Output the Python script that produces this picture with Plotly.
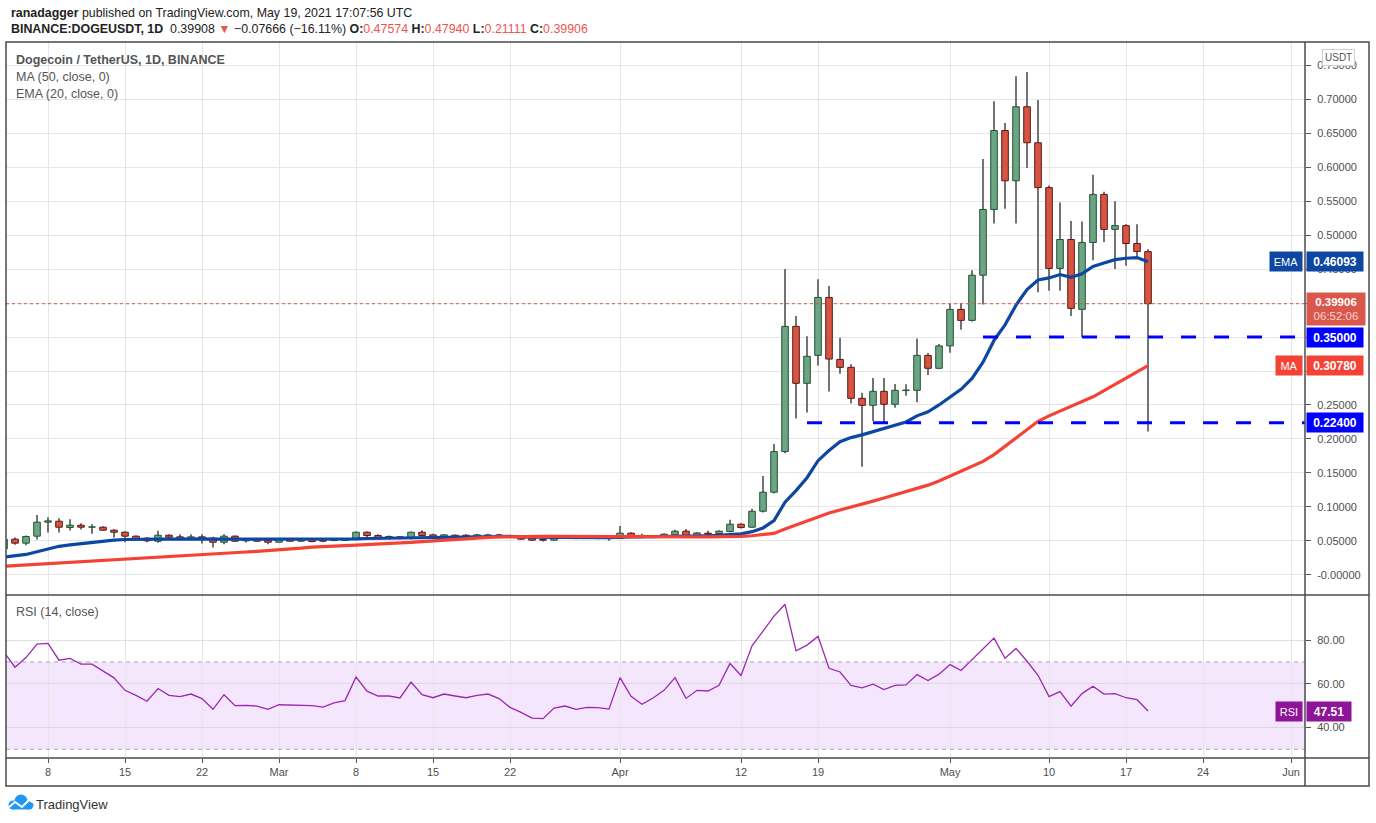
import pandas as pd
import plotly.graph_objs as go

# daily candles, BINANCE DOGEUSDT, 2021-02-04 .. 2021-05-19
start_date = "2021-02-04"
opens = [
    0.0382, 0.0525, 0.0466, 0.0569, 0.0775, 0.0789, 0.0696, 0.0730, 0.0701, 0.0701,
    0.0657, 0.0627, 0.0569, 0.0539, 0.0495, 0.0583, 0.0559, 0.0534, 0.0559, 0.0539,
    0.0480, 0.0569, 0.0500, 0.0520, 0.0510, 0.0480, 0.0520, 0.0495, 0.0520, 0.0510,
    0.0505, 0.0505, 0.0520, 0.0627, 0.0578, 0.0539, 0.0559, 0.0539, 0.0627, 0.0588,
    0.0564, 0.0583, 0.0583, 0.0564, 0.0569, 0.0588, 0.0573, 0.0559, 0.0544, 0.0520,
    0.0510, 0.0544, 0.0549, 0.0549, 0.0549, 0.0549, 0.0534, 0.0613, 0.0573, 0.0549,
    0.0564, 0.0588, 0.0642, 0.0578, 0.0613, 0.0608, 0.0637, 0.0745, 0.0701, 0.0936,
    0.1216, 0.1814, 0.3657, 0.2819, 0.3230, 0.4083, 0.3171, 0.3054, 0.2598, 0.2495,
    0.2701, 0.2510, 0.2712, 0.2716, 0.3230, 0.3040, 0.3370, 0.3907, 0.3745, 0.4410,
    0.5378, 0.6540, 0.5800, 0.6890, 0.6360, 0.5700, 0.4510, 0.4936, 0.3907, 0.4892,
    0.5600, 0.5085, 0.5140, 0.4877, 0.47574,
]
highs = [
    0.0540, 0.0550, 0.0578, 0.0882, 0.0848, 0.0833, 0.0819, 0.0760, 0.0745, 0.0716,
    0.0672, 0.0642, 0.0578, 0.0554, 0.0647, 0.0598, 0.0598, 0.0598, 0.0598, 0.0559,
    0.0598, 0.0578, 0.0539, 0.0534, 0.0520, 0.0530, 0.0534, 0.0539, 0.0530, 0.0520,
    0.0534, 0.0539, 0.0637, 0.0637, 0.0598, 0.0578, 0.0573, 0.0637, 0.0657, 0.0603,
    0.0598, 0.0593, 0.0598, 0.0603, 0.0603, 0.0603, 0.0578, 0.0564, 0.0554, 0.0534,
    0.0569, 0.0564, 0.0564, 0.0559, 0.0559, 0.0559, 0.0720, 0.0627, 0.0603, 0.0588,
    0.0608, 0.0662, 0.0676, 0.0632, 0.0647, 0.0657, 0.0809, 0.0760, 0.0971, 0.1456,
    0.1926, 0.4500, 0.3810, 0.3510, 0.4350, 0.4250, 0.3490, 0.3100, 0.2680, 0.2897,
    0.2897, 0.2809, 0.2804, 0.3480, 0.3265, 0.3397, 0.3985, 0.3995, 0.4485, 0.6120,
    0.6970, 0.6650, 0.7340, 0.7400, 0.6990, 0.5730, 0.5480, 0.5210, 0.5200, 0.5890,
    0.5640, 0.5500, 0.5160, 0.5160, 0.47940,
]
lows = [
    0.0370, 0.0441, 0.0436, 0.0520, 0.0623, 0.0623, 0.0652, 0.0667, 0.0603, 0.0652,
    0.0549, 0.0480, 0.0520, 0.0480, 0.0471, 0.0539, 0.0510, 0.0520, 0.0461, 0.0402,
    0.0451, 0.0490, 0.0475, 0.0485, 0.0451, 0.0475, 0.0490, 0.0485, 0.0480, 0.0480,
    0.0495, 0.0500, 0.0510, 0.0539, 0.0529, 0.0525, 0.0525, 0.0520, 0.0564, 0.0544,
    0.0549, 0.0549, 0.0554, 0.0554, 0.0554, 0.0554, 0.0544, 0.0515, 0.0500, 0.0490,
    0.0500, 0.0534, 0.0525, 0.0529, 0.0525, 0.0500, 0.0529, 0.0554, 0.0539, 0.0539,
    0.0559, 0.0578, 0.0564, 0.0564, 0.0588, 0.0598, 0.0627, 0.0681, 0.0691, 0.0917,
    0.1196, 0.1790, 0.2300, 0.2390, 0.3080, 0.2700, 0.2960, 0.2520, 0.1590, 0.2265,
    0.2235, 0.2461, 0.2637, 0.2542, 0.2941, 0.3025, 0.3270, 0.3608, 0.3730, 0.3980,
    0.5170, 0.5390, 0.5170, 0.5990, 0.4160, 0.4180, 0.4180, 0.3810, 0.3500, 0.4632,
    0.4900, 0.4500, 0.4550, 0.4660, 0.21111,
]
closes = [
    0.0525, 0.0466, 0.0564, 0.0775, 0.0794, 0.0701, 0.0730, 0.0701, 0.0706, 0.0657,
    0.0627, 0.0569, 0.0534, 0.0500, 0.0583, 0.0554, 0.0534, 0.0559, 0.0534, 0.0480,
    0.0569, 0.0495, 0.0515, 0.0495, 0.0480, 0.0520, 0.0495, 0.0510, 0.0490, 0.0495,
    0.0525, 0.0530, 0.0627, 0.0578, 0.0544, 0.0564, 0.0539, 0.0627, 0.0578, 0.0559,
    0.0588, 0.0564, 0.0564, 0.0588, 0.0588, 0.0564, 0.0549, 0.0525, 0.0510, 0.0510,
    0.0559, 0.0556, 0.0539, 0.0539, 0.0539, 0.0534, 0.0613, 0.0564, 0.0549, 0.0573,
    0.0598, 0.0642, 0.0578, 0.0617, 0.0598, 0.0642, 0.0745, 0.0696, 0.0936, 0.1216,
    0.1814, 0.3657, 0.2819, 0.3216, 0.4083, 0.3176, 0.3054, 0.2598, 0.2495, 0.2701,
    0.2510, 0.2716, 0.2720, 0.3230, 0.3040, 0.3370, 0.3907, 0.3745, 0.4410, 0.5378,
    0.6540, 0.5800, 0.6890, 0.6360, 0.5700, 0.4510, 0.4936, 0.3922, 0.4892, 0.5600,
    0.5085, 0.5140, 0.4877, 0.4760, 0.39906,
]

# indicator values
ema20 = [
    0.0260, 0.0280, 0.0300, 0.0340, 0.0380, 0.0420, 0.0440, 0.0460, 0.0480, 0.0500,
    0.0510, 0.0520, 0.0525, 0.0525, 0.0525, 0.0525, 0.0530, 0.0530, 0.0530, 0.0525,
    0.0525, 0.0525, 0.0520, 0.0520, 0.0520, 0.0520, 0.0520, 0.0520, 0.0520, 0.0520,
    0.0520, 0.0520, 0.0530, 0.0535, 0.0537, 0.0540, 0.0540, 0.0550, 0.0555, 0.0556,
    0.0558, 0.0560, 0.0560, 0.0562, 0.0564, 0.0565, 0.0565, 0.0560, 0.0555, 0.0550,
    0.0552, 0.0552, 0.0550, 0.0550, 0.0548, 0.0546, 0.0556, 0.0557, 0.0557, 0.0558,
    0.0560, 0.0565, 0.0567, 0.0572, 0.0575, 0.0580, 0.0593, 0.0603, 0.0635, 0.0690,
    0.0797, 0.1070, 0.1240, 0.1430, 0.1680, 0.1830, 0.1960, 0.2020, 0.2060, 0.2110,
    0.2150, 0.2200, 0.2250, 0.2340, 0.2400, 0.2500, 0.2620, 0.2730, 0.2890, 0.3130,
    0.3450, 0.3680, 0.3970, 0.4200, 0.4340, 0.4370, 0.4420, 0.4380, 0.4430, 0.4540,
    0.4590, 0.4640, 0.4660, 0.4670, 0.46093,
]
ma50 = [
    0.0127, 0.0137, 0.0147, 0.0157, 0.0167, 0.0177, 0.0187, 0.0197, 0.0207, 0.0217,
    0.0227, 0.0237, 0.0246, 0.0255, 0.0264, 0.0273, 0.0282, 0.0291, 0.0300, 0.0309,
    0.0318, 0.0327, 0.0336, 0.0345, 0.0354, 0.0363, 0.0375, 0.0392, 0.0408, 0.0418,
    0.0424, 0.0430, 0.0436, 0.0443, 0.0450, 0.0458, 0.0468, 0.0478, 0.0490, 0.0502,
    0.0515, 0.0527, 0.0537, 0.0545, 0.0552, 0.0558, 0.0562, 0.0564, 0.0565, 0.0565,
    0.0565, 0.0564, 0.0563, 0.0561, 0.0559, 0.0556, 0.0555, 0.0554, 0.0554, 0.0554,
    0.0555, 0.0556, 0.0557, 0.0558, 0.0559, 0.0560, 0.0563, 0.0566, 0.0575, 0.0588,
    0.0610, 0.0675, 0.0735, 0.0790, 0.0860, 0.0910, 0.0955, 0.0995, 0.1040, 0.1085,
    0.1130, 0.1175, 0.1220, 0.1270, 0.1320, 0.1380, 0.1450, 0.1520, 0.1590, 0.1670,
    0.1770, 0.1890, 0.2010, 0.2140, 0.2260, 0.2340, 0.2410, 0.2470, 0.2540, 0.2620,
    0.2710, 0.2800, 0.2890, 0.2980, 0.30780,
]
rsi14 = [
    74.5, 67.6, 72.0, 78.2, 78.5, 70.8, 71.6, 69.0, 69.0, 65.7,
    62.7, 57.0, 54.7, 52.0, 57.8, 54.7, 54.1, 55.3, 53.2, 48.3,
    55.0, 50.0, 50.1, 49.8, 48.3, 50.4, 50.3, 50.3, 50.0, 49.3,
    51.2, 52.3, 63.1, 56.6, 54.4, 54.4, 53.5, 60.8, 55.0, 53.6,
    55.3, 54.4, 53.6, 54.7, 55.3, 53.2, 49.2, 46.9, 44.3, 44.0,
    48.9, 49.8, 48.3, 49.2, 49.1, 48.4, 62.8, 54.3, 50.6, 53.5,
    57.0, 62.8, 53.3, 57.0, 56.7, 59.3, 69.3, 63.8, 77.4, 84.1,
    91.0, 96.4, 75.1, 77.7, 81.7, 67.1, 65.4, 59.3, 58.1, 59.8,
    57.3, 59.3, 59.5, 64.2, 61.5, 64.4, 68.8, 66.1, 71.1, 76.2,
    80.9, 71.7, 76.2, 70.3, 63.9, 54.1, 56.4, 49.7, 55.5, 58.9,
    55.3, 55.5, 53.6, 52.7, 47.51,
]

# horizontal support levels drawn by the author
support_levels = [0.35, 0.224]
support_start = ["2021-05-04", "2021-04-18"]

price_ticks = [0.0, 0.05, 0.10, 0.15, 0.20, 0.25, 0.30, 0.35, 0.40, 0.45, 0.50, 0.55, 0.60, 0.65, 0.70, 0.75]
# 0.35 and 0.40 sit fully under the value tags in the original, so no label there
price_tick_text = ["-0.00000", "0.05000", "0.10000", "0.15000", "0.20000", "0.25000", "0.30000", "",
                   "", "0.45000", "0.50000", "0.55000", "0.60000", "0.65000", "0.70000", "0.75000"]
rsi_ticks = [40, 60, 80]
rsi_tick_text = ["40.00", "60.00", "80.00"]
rsi_band = [30, 70]
date_ticks = ["2021-02-08", "2021-02-15", "2021-02-22", "2021-03-01", "2021-03-08", "2021-03-15",
              "2021-03-22", "2021-04-01", "2021-04-12", "2021-04-19", "2021-05-01", "2021-05-10",
              "2021-05-17", "2021-05-24", "2021-06-01"]
date_tick_text = ["8", "15", "22", "Mar", "8", "15", "22", "Apr", "12", "19", "May", "10", "17", "24", "Jun"]

W, H = 1376, 823


def px_x(x):
    return x / W


def px_y(y):
    return 1 - y / H


dates = pd.date_range(start_date, periods=len(closes), freq="D")
df = pd.DataFrame({"open": opens, "high": highs, "low": lows, "close": closes}, index=dates)
df["up"] = df["close"] >= df["open"]
df["body_lo"] = df[["open", "close"]].min(axis=1)
df["body_h"] = (df["close"] - df["open"]).abs()

DAY = 86400000
UP_FILL, UP_LINE = "#6ba583", "#225437"
DN_FILL, DN_LINE = "#d75442", "#5b1a13"
GRID = "#e6e6e6"
AXIS_TXT = "#4f4f4f"
FONT = "Liberation Sans"

fig = go.Figure()

# wicks (thin bars) first, bodies drawn over them
fig.add_trace(
    go.Bar(
        x=df.index,
        y=df["high"] - df["low"],
        base=df["low"],
        width=0.09 * DAY,
        marker=dict(color="#737375", line=dict(width=0)),
        xaxis="x",
        yaxis="y",
        hoverinfo="skip",
    )
)
fig.add_trace(
    go.Bar(
        x=df.index,
        y=df["body_h"],
        base=df["body_lo"],
        width=0.6 * DAY,
        marker=dict(
            color=[UP_FILL if u else DN_FILL for u in df["up"]],
            line=dict(color=[UP_LINE if u else DN_LINE for u in df["up"]], width=1),
        ),
        xaxis="x",
        yaxis="y",
        hoverinfo="skip",
    )
)

# moving averages
fig.add_trace(
    go.Scatter(x=dates, y=ema20, mode="lines", line=dict(color="#0d47a1", width=3.2),
               xaxis="x", yaxis="y", hoverinfo="skip")
)
fig.add_trace(
    go.Scatter(x=dates, y=ma50, mode="lines", line=dict(color="#f44336", width=3.2),
               xaxis="x", yaxis="y", hoverinfo="skip")
)

# support levels
for lvl, start in zip(support_levels, support_start):
    fig.add_trace(
        go.Scatter(
            x=[pd.Timestamp(start), pd.Timestamp("2021-06-04")],
            y=[lvl, lvl],
            mode="lines",
            line=dict(color="#0000ff", width=3, dash="15px,18px"),
            xaxis="x",
            yaxis="y",
            hoverinfo="skip",
        )
    )

# RSI
fig.add_trace(
    go.Scatter(x=dates, y=rsi14, mode="lines", line=dict(color="#9c27b0", width=1.3),
               xaxis="x2", yaxis="y2", hoverinfo="skip")
)

x_range = [pd.Timestamp("2021-02-04 04:20"), pd.Timestamp("2021-06-02 06:30")]
x_dom = [px_x(6), px_x(1305)]

fig.update_layout(
    width=W,
    height=H,
    margin=dict(l=0, r=0, t=0, b=0),
    paper_bgcolor="white",
    plot_bgcolor="rgba(0,0,0,0)",
    showlegend=False,
    barmode="overlay",
    font=dict(family=FONT, size=11, color=AXIS_TXT),
    xaxis=dict(
        domain=x_dom, anchor="y", range=x_range, type="date",
        tickvals=date_ticks, showticklabels=False, ticks="",
        showgrid=True, gridcolor=GRID, gridwidth=1, zeroline=False,
    ),
    xaxis2=dict(
        domain=x_dom, anchor="y2", range=x_range, type="date", matches="x",
        tickvals=date_ticks, ticktext=date_tick_text, ticks="outside", ticklen=4,
        tickcolor="#555", showgrid=True, gridcolor=GRID, gridwidth=1, zeroline=False,
        tickfont=dict(family=FONT, size=11, color=AXIS_TXT),
    ),
    yaxis=dict(
        domain=[px_y(595), px_y(42)], anchor="x", side="right",
        range=[-0.0297, 0.7843], tickvals=price_ticks, ticktext=price_tick_text,
        ticks="outside", ticklen=5, tickcolor="#555", ticklabelstandoff=4,
        showgrid=True, gridcolor=GRID, gridwidth=1, zeroline=False,
        tickfont=dict(family=FONT, size=11, color=AXIS_TXT),
    ),
    yaxis2=dict(
        domain=[px_y(758), px_y(596)], anchor="x2", side="right",
        range=[26.0, 100.2], tickvals=rsi_ticks, ticktext=rsi_tick_text,
        ticks="outside", ticklen=5, tickcolor="#555", ticklabelstandoff=4,
        showgrid=True, gridcolor="rgba(200,200,200,0.55)", gridwidth=1, zeroline=False,
        tickfont=dict(family=FONT, size=11, color=AXIS_TXT),
    ),
)

shapes = []
# RSI band 30-70 with dashed bounds
shapes.append(dict(type="rect", xref="x2 domain", yref="y2", x0=0, x1=1, y0=rsi_band[0], y1=rsi_band[1],
                   fillcolor="#f3e6fd", line=dict(width=0), layer="below"))
for b in rsi_band:
    shapes.append(dict(type="line", xref="x2 domain", yref="y2", x0=0, x1=1, y0=b, y1=b,
                       line=dict(color="#a8a8a8", width=1, dash="4px,4px")))
# last price dotted line
shapes.append(dict(type="line", xref="x domain", yref="y", x0=0, x1=1, y0=closes[-1], y1=closes[-1],
                   line=dict(color="#d75442", width=1, dash="dot")))
# pane frame and separators
frame = "#4a4a4a"
shapes.append(dict(type="rect", xref="paper", yref="paper", x0=px_x(6), x1=px_x(1369),
                   y0=px_y(786), y1=px_y(42), line=dict(color=frame, width=1.5)))
for yy in (595, 758):
    shapes.append(dict(type="line", xref="paper", yref="paper", x0=px_x(6), x1=px_x(1369),
                       y0=px_y(yy), y1=px_y(yy), line=dict(color=frame, width=1.5)))
shapes.append(dict(type="line", xref="paper", yref="paper", x0=px_x(1305), x1=px_x(1305),
                   y0=px_y(786), y1=px_y(42), line=dict(color=frame, width=1.5)))

# TradingView logo (small blue cloud with a zigzag)
LOGO = "#2196f3"
for cx, cy, r in [(21, 801, 6.5), (13, 805, 4.5), (29, 805, 4.5)]:
    shapes.append(dict(type="circle", xref="paper", yref="paper", x0=px_x(cx - r), x1=px_x(cx + r),
                       y0=px_y(cy + r), y1=px_y(cy - r), fillcolor=LOGO, line=dict(width=0)))
shapes.append(dict(type="rect", xref="paper", yref="paper", x0=px_x(13), x1=px_x(29),
                   y0=px_y(809.5), y1=px_y(803), fillcolor=LOGO, line=dict(width=0)))
zig = [(8, 808), (15, 802), (22, 807), (29, 800), (34, 803)]
path = "M " + " L ".join(f"{px_x(a):.5f},{px_y(b):.5f}" for a, b in zig)
shapes.append(dict(type="path", xref="paper", yref="paper", path=path, line=dict(color="white", width=2)))
fig.update_layout(shapes=shapes)

RED_TXT = "#ef5350"
HEAD_FONT = "Liberation Sans, Arial, sans-serif"
ann = []
ann.append(dict(
    xref="paper", yref="paper", x=px_x(9), y=px_y(13), xanchor="left", yanchor="middle", showarrow=False,
    text="<b>ranadagger</b> published on TradingView.com, May 19, 2021 17:07:56 UTC",
    font=dict(family=HEAD_FONT, size=12.4, color="#222"),
))
ann.append(dict(
    xref="paper", yref="paper", x=px_x(9), y=px_y(29), xanchor="left", yanchor="middle", showarrow=False,
    text=("<b>BINANCE:DOGEUSDT, 1D</b>  0.39908 <span style='color:%s'>▼</span> \u22120.07666 (\u221216.11%%) "
          "<b>O:</b><span style='color:%s'>0.47574</span> <b>H:</b><span style='color:%s'>0.47940</span> "
          "<b>L:</b><span style='color:%s'>0.21111</span> <b>C:</b><span style='color:%s'>0.39906</span>")
    % (RED_TXT, RED_TXT, RED_TXT, RED_TXT, RED_TXT),
    font=dict(family=HEAD_FONT, size=12.4, color="#222"),
))
for txt, yy, bold in [("Dogecoin / TetherUS, 1D, BINANCE", 60, True), ("MA (50, close, 0)", 77, False),
                      ("EMA (20, close, 0)", 94, False), ("RSI (14, close)", 612, False)]:
    ann.append(dict(
        xref="paper", yref="paper", x=px_x(14), y=px_y(yy), xanchor="left", yanchor="middle", showarrow=False,
        text=f"<b>{txt}</b>" if bold else txt,
        font=dict(family=HEAD_FONT, size=12.5, color="#555"),
    ))
ann.append(dict(
    xref="paper", yref="paper", x=px_x(34), y=px_y(804), xanchor="left", yanchor="middle", showarrow=False,
    text="TradingView", font=dict(family=HEAD_FONT, size=13, color="#333"),
))
# USDT currency box
ann.append(dict(
    xref="paper", yref="paper", x=px_x(1338), y=px_y(58), xanchor="center", yanchor="middle", showarrow=False,
    text="USDT", font=dict(family=FONT, size=10, color="#555"), bgcolor="white",
    bordercolor="#cfcfcf", borderwidth=1, borderpad=2,
))


def value_tag(yref, yval, text, color, tag=None, width=54, tag_width=30, height=17):
    ann.append(dict(
        xref="paper", yref=yref, x=px_x(1305.5), y=yval, xanchor="left", yanchor="middle", showarrow=False,
        text=text, font=dict(family=FONT, size=12, color="white"), bgcolor=color,
        width=width, height=height, align="center",
    ))
    if tag:
        ann.append(dict(
            xref="paper", yref=yref, x=px_x(1303), y=yval, xanchor="right", yanchor="middle", showarrow=False,
            text=tag, font=dict(family=FONT, size=11, color="white"), bgcolor=color,
            width=tag_width, height=height, align="center",
        ))


value_tag("y", ema20[-1], f"<b>{ema20[-1]:.5f}</b>", "#0d47a1", tag="EMA")
value_tag("y", ma50[-1], f"<b>{ma50[-1]:.5f}</b>", "#f44336", tag="MA", tag_width=24)
for lvl in support_levels:
    value_tag("y", lvl, f"<b>{lvl:.5f}</b>", "#0000ff")
ann.append(dict(
    xref="paper", yref="y", x=px_x(1305.5), y=closes[-1] - 0.0085, xanchor="left", yanchor="middle",
    showarrow=False, text=f"<b>{closes[-1]:.5f}</b><br><span style='color:#f6d5d1'>06:52:06</span>",
    font=dict(family=FONT, size=11.5, color="white"), bgcolor="#d9584b", width=56, height=30, align="center",
))
value_tag("y2", rsi14[-1], f"<b>{rsi14[-1]:.2f}</b>", "#8e1599", tag="RSI", width=42, tag_width=24)
fig.update_layout(annotations=ann)

# drop the default page margin so the figure sits at the window's top-left corner
fig.write_html("out.html", config={"displayModeBar": False},
               post_script="document.body.style.margin='0px';")
